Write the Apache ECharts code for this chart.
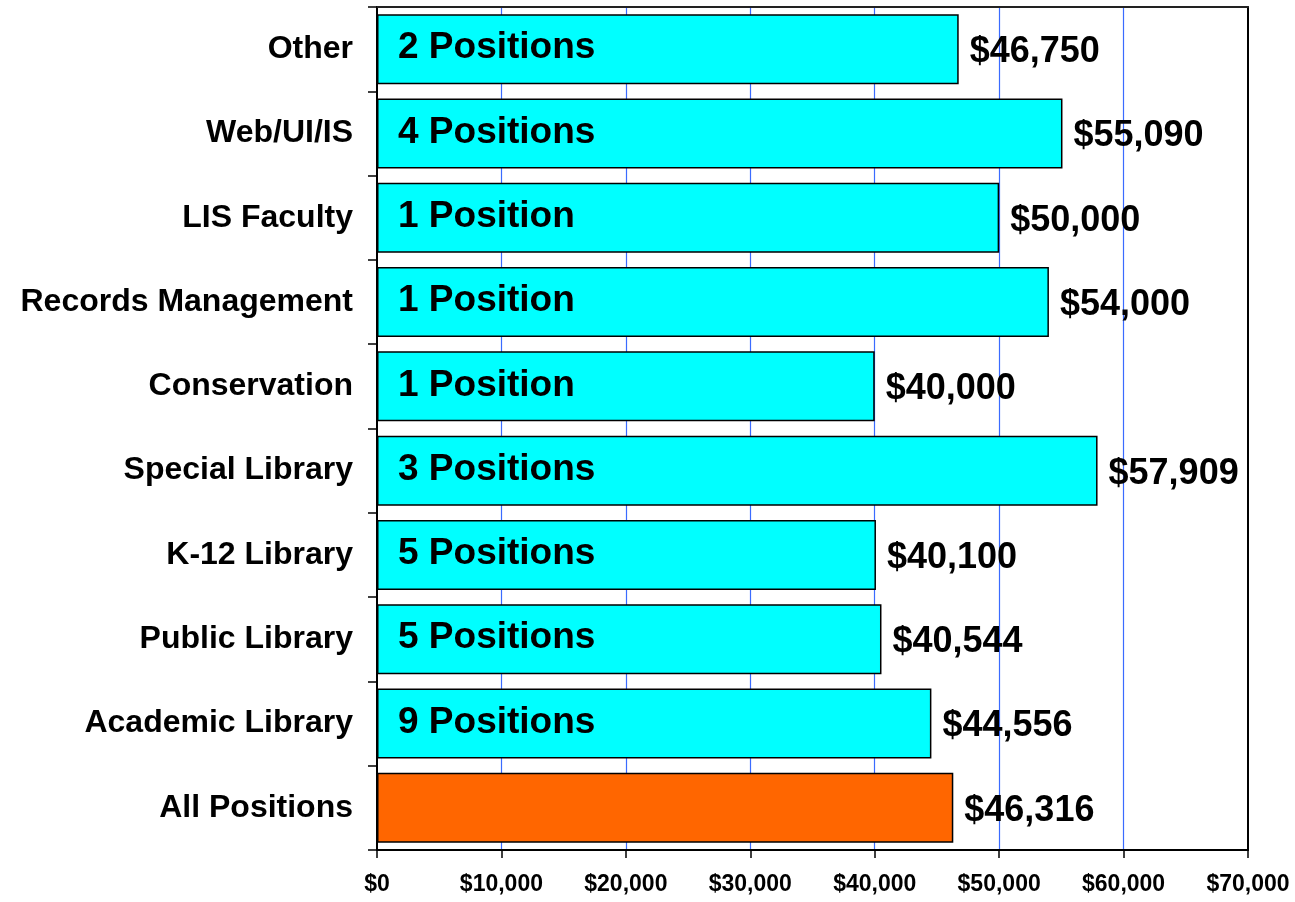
<!DOCTYPE html>
<html>
<head>
<meta charset="utf-8">
<script src="https://cdn.jsdelivr.net/npm/echarts@6/dist/echarts.min.js"></script>
<style>
  html, body { margin: 0; padding: 0; background: #fff; }
  #chart { width: 1295px; height: 902px; }
</style>
</head>
<body>
<div id="chart"></div>
<script>
// categories, bottom to top as ECharts draws a category y axis
const categories = ['All Positions', 'Academic Library', 'Public Library', 'K-12 Library',
  'Special Library', 'Conservation', 'Records Management', 'LIS Faculty', 'Web/UI/IS', 'Other'];
const salaries = [46316, 44556, 40544, 40100, 57909, 40000, 54000, 50000, 55090, 46750];
const positions = [null, 9, 5, 5, 3, 1, 1, 1, 4, 2];
const xTicks = [0, 10000, 20000, 30000, 40000, 50000, 60000, 70000];

const font = 'Liberation Sans, Arial, sans-serif';

function money(v) {
  return '$' + v.toLocaleString('en-US');
}

const chart = echarts.init(document.getElementById('chart'));

const option = {
  animation: false,
  grid: {
    left: 377, right: 47, top: 7, bottom: 52,
    show: false
  },
  xAxis: [
    {
      type: 'value',
      min: xTicks[0],
      max: xTicks[xTicks.length - 1],
      interval: 10000,
      axisLine: { show: true, onZero: false, lineStyle: { color: '#000', width: 2 } },
      axisTick: { show: true, length: 8, lineStyle: { color: '#000', width: 1.5 } },
      splitLine: {
        show: true, showMinLine: false, showMaxLine: false,
        lineStyle: { color: '#3a6bff', width: 1.2 }
      },
      axisLabel: {
        margin: 23,
        color: '#000', fontWeight: 'bold', fontSize: 23, fontFamily: font,
        formatter: v => money(v)
      }
    },
    {
      // top border of the plot
      type: 'value',
      position: 'top',
      min: xTicks[0],
      max: xTicks[xTicks.length - 1],
      axisLine: { show: true, onZero: false, lineStyle: { color: '#222', width: 2 } },
      axisTick: { show: false },
      axisLabel: { show: false },
      splitLine: { show: false }
    }
  ],
  yAxis: [
    {
      type: 'category',
      data: categories,
      axisLine: { show: true, onZero: false, lineStyle: { color: '#000', width: 2 } },
      axisTick: { show: true, length: 9, lineStyle: { color: '#000', width: 1.5 } },
      axisLabel: {
        margin: 24,
        color: '#000', fontWeight: 'bold', fontSize: 32, fontFamily: font
      }
    },
    {
      // right border of the plot
      type: 'category',
      position: 'right',
      data: categories,
      axisLine: { show: true, onZero: false, lineStyle: { color: '#000', width: 2 } },
      axisTick: { show: false },
      axisLabel: { show: false }
    }
  ],
  series: [
    {
      type: 'bar',
      barCategoryGap: '17%',
      data: salaries.map((v, i) => ({
        value: v,
        itemStyle: { color: i === 0 ? '#ff6600' : '#00ffff' }
      })),
      itemStyle: { borderColor: '#000', borderWidth: 1.5 },
      label: {
        show: true,
        position: 'insideLeft',
        distance: 21,
        offset: [0, -1],
        color: '#000', fontWeight: 'bold', fontSize: 37, fontFamily: font,
        formatter: p => {
          const n = positions[p.dataIndex];
          if (n == null) return '';
          return n + (n === 1 ? ' Position' : ' Positions');
        }
      }
    },
    {
      type: 'bar',
      barGap: '-100%',
      barCategoryGap: '17%',
      data: salaries,
      itemStyle: { color: 'transparent' },
      silent: true,
      label: {
        show: true,
        position: 'right',
        distance: 11,
        offset: [0, 3],
        color: '#000', fontWeight: 'bold', fontSize: 36, fontFamily: font,
        formatter: p => money(p.value)
      }
    }
  ]
};

chart.setOption(option);
window.addEventListener('resize', chart.resize);
</script>
</body>
</html>
